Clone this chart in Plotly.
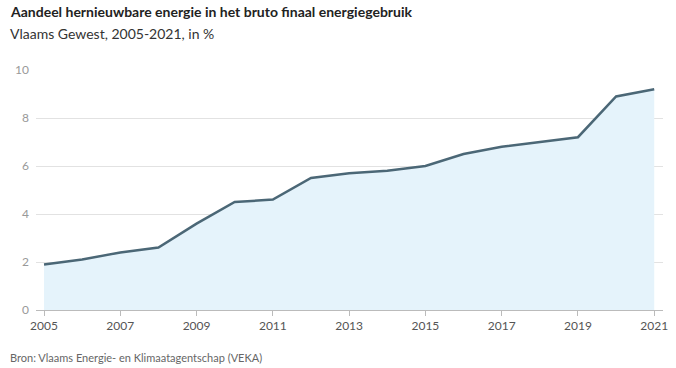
import plotly.graph_objects as go

years = list(range(2005, 2022))
share = [1.9, 2.1, 2.4, 2.6, 3.6, 4.5, 4.6, 5.5, 5.7, 5.8, 6.0, 6.5, 6.8, 7.0, 7.2, 8.9, 9.2]
x_ticks = list(range(2005, 2022, 2))
y_ticks = [0, 2, 4, 6, 8, 10]

title = "Aandeel hernieuwbare energie in het bruto finaal energiegebruik"
subtitle = "Vlaams Gewest, 2005-2021, in %"
source = "Bron: Vlaams Energie- en Klimaatagentschap (VEKA)"

W, H = 676, 368
L, R, T, B = 36, 8, 70, 58

fig = go.Figure()
fig.add_trace(go.Scatter(
    x=years, y=share, mode="lines", fill="tozeroy",
    fillcolor="#e5f3fb",
    line=dict(color="#4b6776", width=2.5),
    hoverinfo="x+y",
))

font = "Lato, 'Open Sans', sans-serif"
fig.update_layout(
    width=W, height=H,
    margin=dict(l=L, r=R, t=T, b=B),
    paper_bgcolor="white", plot_bgcolor="white",
    showlegend=False,
    font=dict(family=font, color="#8a8a8a", size=12),
    xaxis=dict(
        range=[2004.79, 2021.23], tickvals=x_ticks, ticktext=[str(v) for v in x_ticks],
        showgrid=False, zeroline=False, showline=True, linecolor="#bbbbbb", linewidth=1,
        ticks="outside", ticklen=5, tickcolor="#bbbbbb",
        tickfont=dict(size=12, color="#555555"),
    ),
    yaxis=dict(
        range=[0, 10], tickvals=y_ticks, showgrid=True, gridcolor="#e2e2e2", gridwidth=1,
        zeroline=False, showline=False, ticks="", ticklabelstandoff=6,
        tickfont=dict(size=12, color="#999999"),
    ),
)

plot_h = H - T - B
plot_w = W - L - R
def py(p):
    return (H - B - p) / plot_h
def px(p):
    return (p - L) / plot_w

fig.add_annotation(text="<b>" + title + "</b>", xref="paper", yref="paper",
                   x=px(8), y=py(12), xanchor="left", yanchor="middle", showarrow=False,
                   font=dict(size=14, color="#222222", family=font))
fig.add_annotation(text=subtitle, xref="paper", yref="paper",
                   x=px(8), y=py(33), xanchor="left", yanchor="middle", showarrow=False,
                   font=dict(size=14, color="#333333", family=font))
fig.add_annotation(text=source, xref="paper", yref="paper",
                   x=px(8), y=py(357), xanchor="left", yanchor="middle", showarrow=False,
                   font=dict(size=11, color="#666666", family=font))

# remove the browser's default 8px body margin so the figure fills the window
fig.write_html(
    "out.html",
    config={"displayModeBar": False},
    post_script="document.body.style.margin='0';document.body.style.overflow='hidden';",
)
